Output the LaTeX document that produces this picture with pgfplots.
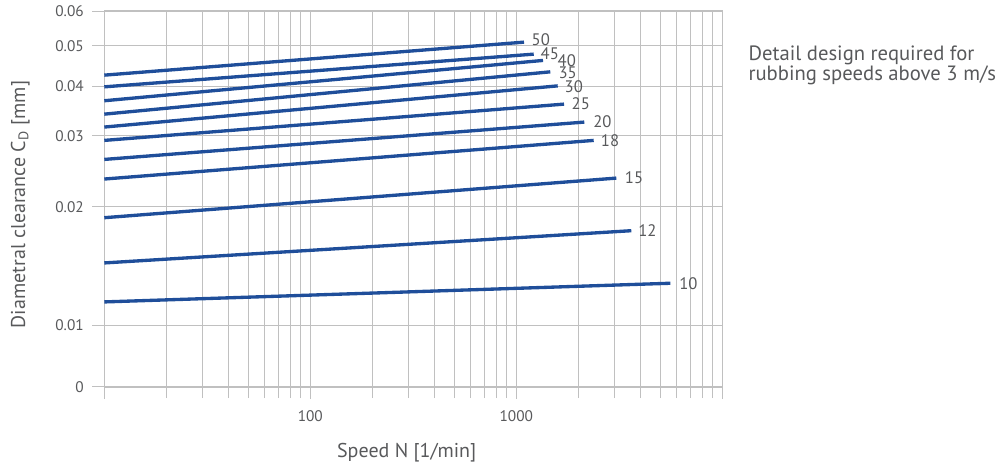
\documentclass[border=0pt]{standalone}
\usepackage{fontspec}
\setmainfont{PT Sans}
\usepackage{pgfplots}
\pgfplotsset{compat=1.18}
\definecolor{lineblue}{RGB}{31,78,154}
\definecolor{gridgray}{RGB}{192,192,192}
\definecolor{txtgray}{RGB}{88,89,91}
\tikzset{lbl/.style={anchor=west, inner sep=0pt, text=txtgray, font=\fontsize{12.5}{14}\selectfont},
  bl/.style={draw=lineblue, line width=2.5pt, mark=none, solid}}
\begin{document}
\begin{tikzpicture}
\useasboundingbox (0,0) rectangle (751.5pt,346.5pt);
\begin{axis}[
  at={(78.225pt,56.25pt)}, anchor=south west,
  scale only axis, width=463.5pt, height=282pt,
  xmode=log, ymode=log,
  xmin=10, xmax=10000, ymin=0.00699, ymax=0.0626,
  xtick={10,100,1000,10000}, xticklabels={,100,1000,},
  minor xtick={20,30,40,50,60,70,80,90,200,300,400,500,600,700,800,900,2000,3000,4000,5000,6000,7000,8000,9000},
  ytick={0.007,0.01,0.02,0.030251,0.040324,0.05109,0.06253},
  yticklabels={0,0.01,0.02,0.03,0.04,0.05,0.06},
  minor ytick={},
  grid=both,
  major grid style={draw=gridgray, line width=0.9pt},
  minor grid style={draw=gridgray, line width=0.9pt},
  axis line style={draw=gridgray, line width=0.9pt},
  major tick style={draw=gridgray, line width=0.9pt},
  minor tick style={draw=gridgray, line width=0.9pt},
  tick align=outside,
  major tick length=9pt, minor tick length=8.3pt,
  xtick pos=bottom, ytick pos=left,
  tick label style={font=\fontsize{11.5}{13}\selectfont, text=txtgray},
  yticklabel style={xshift=-2.9pt},
  xticklabel style={yshift=-5pt},
  clip=false,
]
\addplot[bl] coordinates {(10,0.04307) (1090,0.05221)} node[lbl, pos=1, xshift=4.5pt, yshift=1.6pt] {50};
\addplot[bl] coordinates {(10,0.04023) (1215,0.04868)} node[lbl, pos=1, xshift=4pt, yshift=0.4pt] {45};
\addplot[bl] coordinates {(10,0.03710) (1348,0.04693)} node[lbl, pos=1, xshift=9.75pt, yshift=0pt] {40};
\addplot[bl] coordinates {(10,0.03431) (1462,0.04391)} node[lbl, pos=1, xshift=5pt, yshift=-0.6pt] {35};
\addplot[bl] coordinates {(10,0.03182) (1589,0.04046)} node[lbl, pos=1, xshift=4pt, yshift=-0.4pt] {30};
\addplot[bl] coordinates {(10,0.02944) (1705,0.03638)} node[lbl, pos=1, xshift=4.5pt, yshift=0pt] {25};
\addplot[bl] coordinates {(10,0.02635) (2138,0.03276)} node[lbl, pos=1, xshift=5.5pt, yshift=0pt] {20};
\addplot[bl] coordinates {(10,0.02350) (2375,0.02944)} node[lbl, pos=1, xshift=4.2pt, yshift=-0.5pt] {18};
\addplot[bl] coordinates {(10,0.01876) (3058,0.02363)} node[lbl, pos=1, xshift=5.25pt, yshift=0pt] {15};
\addplot[bl] coordinates {(10,0.01441) (3616,0.01739)} node[lbl, pos=1, xshift=4pt, yshift=0pt] {12};
\addplot[bl] coordinates {(10,0.01148) (5593,0.01280)} node[lbl, pos=1, xshift=5.5pt, yshift=0pt] {10};
\end{axis}
\node[anchor=base west, inner sep=0pt, text=txtgray, font=\fontsize{15.5}{16}\selectfont] at (561.2pt,301pt) {Detail design required for};
\node[anchor=base west, inner sep=0pt, text=txtgray, font=\fontsize{15.5}{16}\selectfont] at (561.2pt,286.5pt) {rubbing speeds above 3 m/s};
\node[anchor=base, inner sep=0pt, text=txtgray, font=\fontsize{15}{18}\selectfont] at (305pt,3.5pt) {Speed N [1/min]};
\node[anchor=base, rotate=90, inner sep=0pt, text=txtgray, font=\fontsize{15}{18}\selectfont] at (18.75pt,193.1pt) {Diametral clearance C\textsubscript{D} [mm]};
\end{tikzpicture}
\end{document}
